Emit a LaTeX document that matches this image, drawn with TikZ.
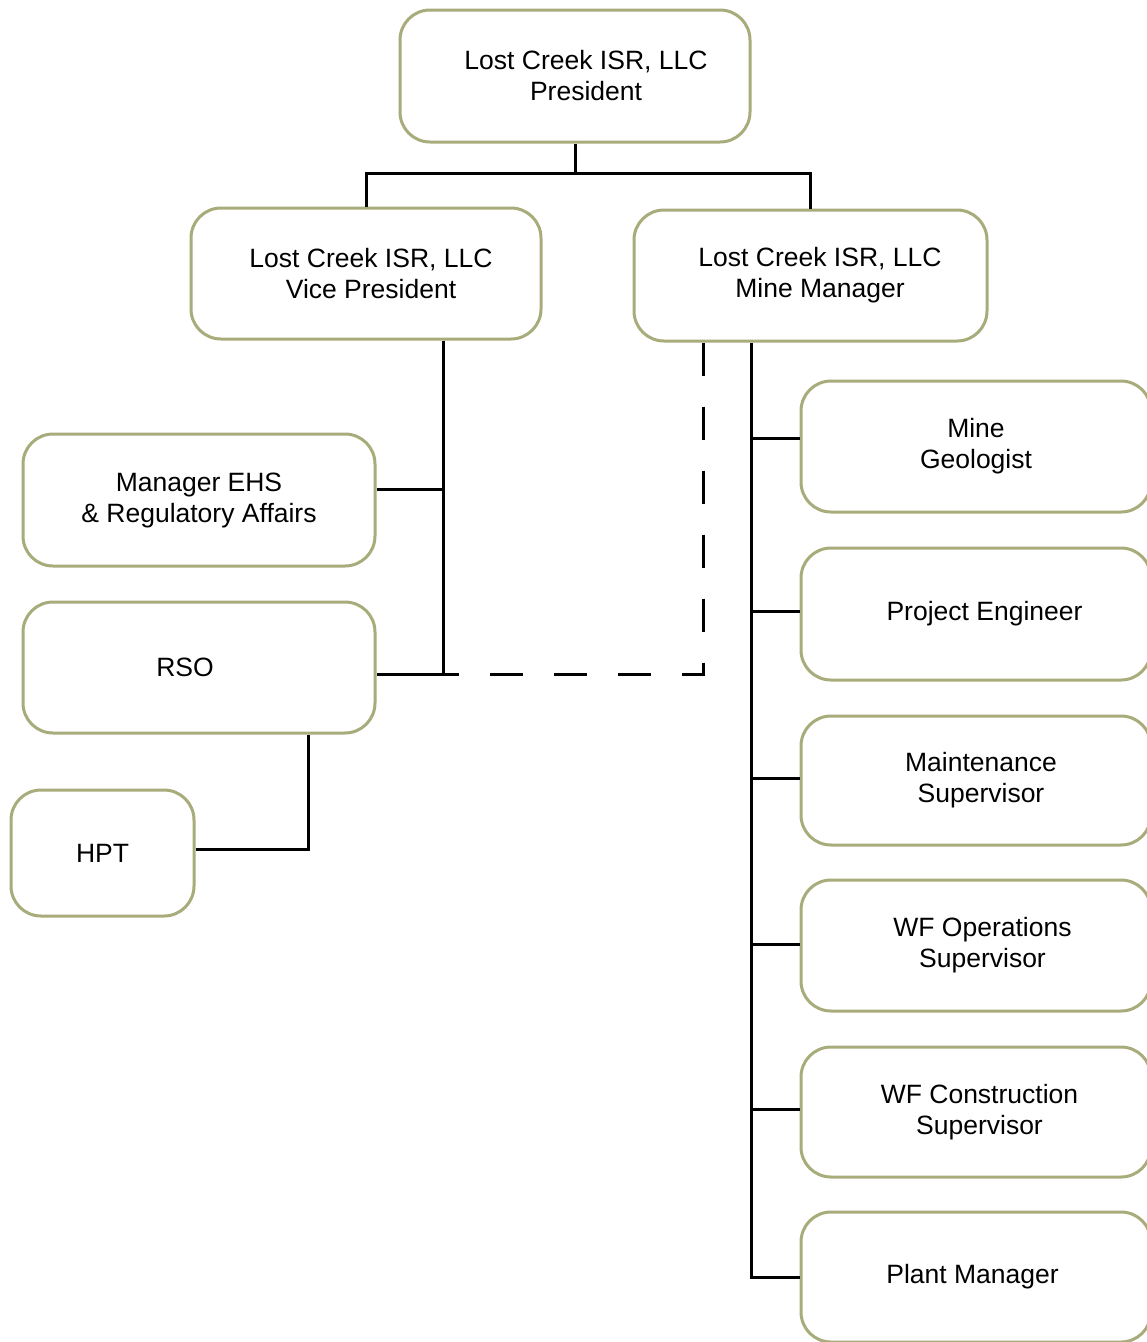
\documentclass[tikz,border=0pt]{standalone}
\usepackage{fontspec}
\setmainfont{Liberation Sans}
\begin{document}
\begin{tikzpicture}[x=1pt,y=-1pt,
  orgbox/.style={draw=boxcol,line width=3pt,rounded corners=30pt,fill=white,
    inner sep=0pt,align=center,font=\fontsize{26.5}{31}\selectfont},
  link/.style={draw=black,line width=3pt},
  dashlink/.style={draw=black,line width=3pt,dash pattern=on 33pt off 31pt}]
\definecolor{boxcol}{RGB}{168,172,122}
\useasboundingbox[fill=white] (0,0) rectangle (1147,1342);
% boxes
\node[orgbox,minimum width=350pt,minimum height=132pt] (pres) at (575,76) {\hspace*{22pt}Lost Creek ISR, LLC\\\hspace*{22pt}President};
\node[orgbox,minimum width=350pt,minimum height=131pt] (vp) at (366,273.5) {\hspace*{10pt}Lost Creek ISR, LLC\\\hspace*{10pt}Vice President};
\node[orgbox,minimum width=353pt,minimum height=131pt] (mm) at (810.5,275.5) {\hspace*{19pt}Lost Creek ISR, LLC\\\hspace*{19pt}Mine Manager};
\node[orgbox,minimum width=352pt,minimum height=132pt] (ehs) at (199,500) {Manager EHS\\\& Regulatory Affairs};
\node[orgbox,minimum width=352pt,minimum height=131pt] (rso) at (199,667.5) {\hspace*{-28pt}RSO};
\node[orgbox,minimum width=183pt,minimum height=126pt] (hpt) at (102.5,853) {HPT};
\node[orgbox,minimum width=350pt,minimum height=131pt] (geo) at (976,446.5) {Mine\\Geologist};
\node[orgbox,minimum width=350pt,minimum height=132pt] (pe) at (976,614) {\hspace*{17pt}Project Engineer};
\node[orgbox,minimum width=350pt,minimum height=129pt] (ms) at (976,780.5) {\hspace*{10pt}Maintenance\\\hspace*{10pt}Supervisor};
\node[orgbox,minimum width=350pt,minimum height=131pt] (wfo) at (976,945.5) {\hspace*{13pt}WF Operations\\\hspace*{13pt}Supervisor};
\node[orgbox,minimum width=350pt,minimum height=130pt] (wfc) at (976,1112) {\hspace*{7pt}WF Construction\\\hspace*{7pt}Supervisor};
\node[orgbox,minimum width=350pt,minimum height=130pt] (pm) at (976,1277) {\hspace*{-7pt}Plant Manager};
% trunk coordinates
\coordinate (vt) at (443,0);
\coordinate (dt) at (703,0);
\coordinate (ht) at (308,0);
\coordinate (mt) at (751,0);
% connection points
\coordinate (ehsc) at ([yshift=11pt]ehs.east);
\coordinate (rsoc) at ([yshift=-6.5pt]rso.east);
\coordinate (hptc) at ([yshift=4pt]hpt.east);
\coordinate (geoc) at ([yshift=8.5pt]geo.west);
\coordinate (pec) at ([yshift=3pt]pe.west);
\coordinate (msc) at ([yshift=2.5pt]ms.west);
\coordinate (wfoc) at ([yshift=1.5pt]wfo.west);
\coordinate (wfcc) at ([yshift=3pt]wfc.west);
% president to VP and MM
\draw[link] (pres.south) -- ++(0,30) coordinate (bar);
\draw[link] (vp.north) |- (bar) -| (mm.north);
% VP branch
\draw[link] (vt |- vp.south) -- (vt |- rsoc);
\draw[link] (ehsc) -- (vt |- ehsc);
\draw[link] (rsoc) -- (vt |- rsoc);
% dashed from MM to RSO
\draw[dashlink] (dt |- mm.south) -- (dt |- rsoc) -- (vt |- rsoc);
% RSO to HPT
\draw[link] (ht |- rso.south) -- (ht |- hptc) -- (hptc);
% MM branch
\draw[link] (mt |- mm.south) -- (mt |- pm.west) -- (pm.west);
\draw[link] (mt |- geoc) -- (geoc);
\draw[link] (mt |- pec) -- (pec);
\draw[link] (mt |- msc) -- (msc);
\draw[link] (mt |- wfoc) -- (wfoc);
\draw[link] (mt |- wfcc) -- (wfcc);
\end{tikzpicture}
\end{document}
